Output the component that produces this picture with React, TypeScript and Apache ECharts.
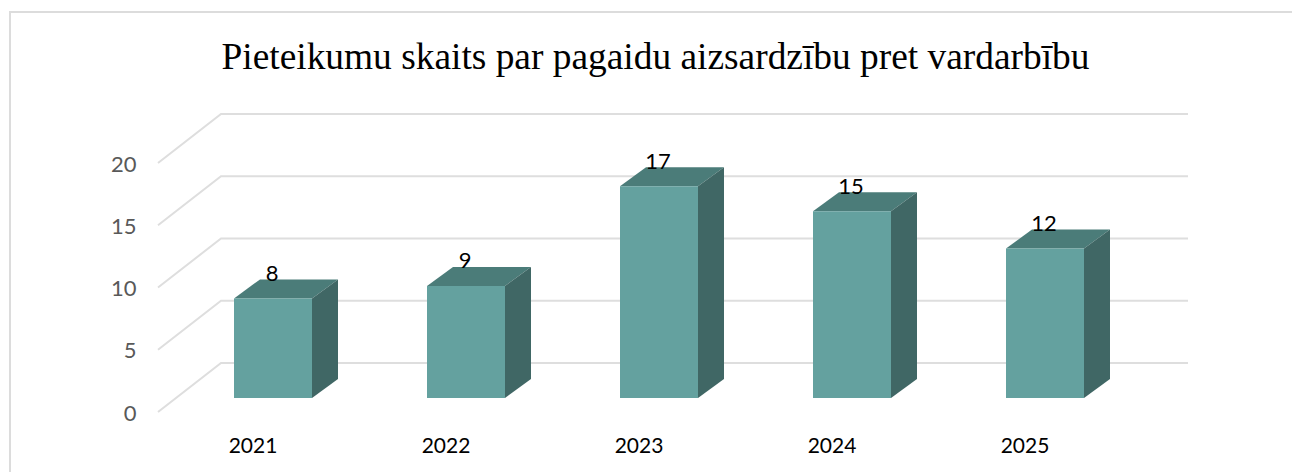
import React, { useEffect, useRef } from "react";
import * as echarts from "echarts";

const titleText = "Pieteikumu skaits par pagaidu aizsardzību pret vardarbību";
const years = ["2021", "2022", "2023", "2024", "2025"];
const counts = [8, 9, 17, 15, 12];
const ticks = [0, 5, 10, 15, 20];

const BODY = "Lato, 'Open Sans', sans-serif";
const FRONT = "#64a19f";
const TOP = "#4b7c79";
const SIDE = "#406765";
const GRID = "#dedede";

// offsets of the pseudo-3D projection
const WALL_DX = 63;
const WALL_DY = -49;
const BAR_DX = 20;
const BAR_DY = -14;
const DEPTH_X = 26;
const DEPTH_Y = -19;
const BAR_W = 78;

export default function App() {
  const ref = useRef<HTMLDivElement>(null);
  useEffect(() => {
    const chart = echarts.init(ref.current!, undefined, { renderer: "svg" });
    chart.setOption({
      animation: false,
      backgroundColor: "#ffffff",
      title: {
        text: titleText,
        left: 650.5,
        top: 33,
        textAlign: "center",
        textStyle: {
          fontFamily: "'Liberation Serif', serif",
          fontSize: 37.4,
          fontWeight: "normal",
          color: "#000000",
        },
      },
      grid: { left: 156.5, top: 163, width: 965, height: 249 },
      xAxis: {
        type: "category",
        data: years,
        axisLine: { show: false },
        axisTick: { show: false },
        axisLabel: { color: "#000000", fontFamily: BODY, fontSize: 21, margin: 22 },
      },
      yAxis: {
        type: "value",
        min: 0,
        max: 20,
        interval: 5,
        splitLine: { show: false },
        axisLine: { show: false },
        axisTick: { show: false },
        axisLabel: { color: "#595959", fontFamily: BODY, fontSize: 22, margin: 20, padding: [7, 0, 0, 0] },
      },
      series: [
        {
          type: "custom",
          silent: true,
          z: 1,
          data: ticks.map((t) => [years[0], t]),
          encode: { x: 0, y: 1 },
          renderItem: (params: any, api: any) => {
            const y = api.coord([years[0], api.value(1)])[1];
            const x0 = params.coordSys.x + 1.5;
            const x1 = x0 + WALL_DX;
            const x2 = params.coordSys.x + params.coordSys.width + 66.5;
            return {
              type: "polyline",
              shape: { points: [[x0, y], [x1, y + WALL_DY], [x2, y + WALL_DY]] },
              style: { stroke: GRID, lineWidth: 2, fill: "none" },
            };
          },
        },
        {
          type: "custom",
          silent: true,
          z: 2,
          data: years.map((y, i) => [y, counts[i]]),
          encode: { x: 0, y: 1 },
          renderItem: (_params: any, api: any) => {
            const [cx, topY] = api.coord([api.value(0), api.value(1)]);
            const base = api.coord([api.value(0), 0])[1];
            const l = cx + BAR_DX - BAR_W / 2;
            const r = l + BAR_W;
            const t = topY + BAR_DY;
            const b = base + BAR_DY;
            return {
              type: "group",
              children: [
                {
                  type: "polygon",
                  shape: { points: [[l, t], [r, t], [r + DEPTH_X, t + DEPTH_Y], [l + DEPTH_X, t + DEPTH_Y]] },
                  style: { fill: TOP },
                },
                {
                  type: "polygon",
                  shape: { points: [[r, t], [r + DEPTH_X, t + DEPTH_Y], [r + DEPTH_X, b + DEPTH_Y], [r, b]] },
                  style: { fill: SIDE },
                },
                {
                  type: "rect",
                  shape: { x: l, y: t, width: BAR_W, height: b - t },
                  style: { fill: FRONT },
                },
                {
                  type: "text",
                  x: cx + BAR_DX - 1,
                  y: t - 26,
                  style: {
                    text: String(api.value(1)),
                    fill: "#000000",
                    font: `22px ${BODY}`,
                    textAlign: "center",
                    textVerticalAlign: "middle",
                  },
                },
              ],
            };
          },
        },
      ],
    });
    return () => chart.dispose();
  }, []);
  return (
    <div style={{ position: "absolute", left: 0, top: 0, width: 1292, height: 472, overflow: "hidden", background: "#fff" }}>
      <div ref={ref} style={{ width: 1292, height: 472 }} />
      <div style={{ position: "absolute", left: 9, top: 11, width: 1400, height: 600, border: "2px solid #dcdcdc", boxSizing: "border-box", pointerEvents: "none" }} />
    </div>
  );
}
